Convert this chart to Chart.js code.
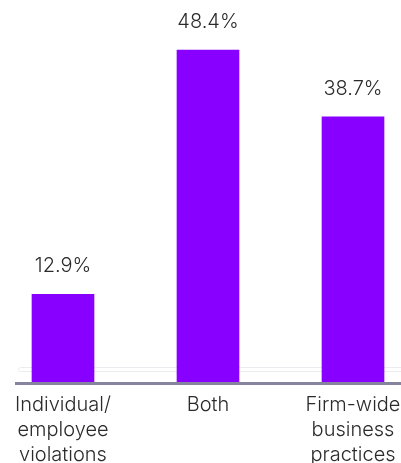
<!DOCTYPE html>
<html>
<head>
<meta charset="utf-8">
<script src="https://cdn.jsdelivr.net/npm/chart.js@4.4.1/dist/chart.umd.min.js"></script>
<style>
html,body{margin:0;padding:0;background:#fff;}
#wrap{width:401px;height:463px;position:relative;}
</style>
</head>
<body>
<div id="wrap"><canvas id="c" width="401" height="463"></canvas></div>
<script>
const categories = [["Individual/","employee","violations"], "Both", ["Firm-wide","business","practices"]];
const values = [12.9, 48.4, 38.7];
const valueLabels = ["12.9%", "48.4%", "38.7%"];

const FONT = "Inter, 'Liberation Sans', Arial, sans-serif";

const decor = {
  id: 'decor',
  beforeDatasetsDraw(chart) {
    const ctx = chart.ctx;
    const y0 = chart.scales.y.getPixelForValue(0);
    ctx.save();
    ctx.strokeStyle = '#ececf0';
    ctx.lineWidth = 1;
    ctx.beginPath();
    const bx = 18.5, by = y0 - 15.5, bw = 420, bh = 4, r = 2;
    ctx.moveTo(bx + r, by);
    ctx.lineTo(bx + bw, by);
    ctx.lineTo(bx + bw, by + bh);
    ctx.lineTo(bx + r, by + bh);
    ctx.arcTo(bx, by + bh, bx, by, r);
    ctx.arcTo(bx, by, bx + r, by, r);
    ctx.stroke();
    ctx.restore();
  },
  afterDatasetsDraw(chart) {
    const ctx = chart.ctx;
    const y0 = chart.scales.y.getPixelForValue(0);
    ctx.save();
    ctx.fillStyle = '#86839f';
    ctx.fillRect(15, y0 - 1, 401 - 15, 3);
    ctx.fillStyle = '#2b2b2b';
    ctx.font = '300 20px ' + FONT;
    ctx.textAlign = 'center';
    ctx.textBaseline = 'bottom';
    const meta = chart.getDatasetMeta(0);
    meta.data.forEach((bar, i) => {
      ctx.fillText(valueLabels[i], bar.x, bar.y - 18);
    });
    ctx.restore();
  }
};

new Chart(document.getElementById('c'), {
  type: 'bar',
  data: {
    labels: categories,
    datasets: [{
      data: values,
      backgroundColor: '#8800ff',
      borderWidth: 0,
      barThickness: 62,
      clip: false
    }]
  },
  options: {
    responsive: false,
    animation: false,
    devicePixelRatio: 1,
    layout: { padding: { top: 39, left: 63, right: 48, bottom: 0 } },
    plugins: { legend: { display: false }, tooltip: { enabled: false } },
    scales: {
      x: {
        offset: false,
        grid: { display: false, drawTicks: false },
        border: { display: false },
        ticks: {
          padding: 10,
          color: '#2b2b2b',
          font: { family: FONT, size: 20, weight: 300, lineHeight: 1.23 },
          maxRotation: 0,
          autoSkip: false
        },
        afterFit(s) { s.height = 80; s.paddingLeft = 0; s.paddingRight = 0; }
      },
      y: {
        display: false,
        min: 0,
        max: 50
      }
    }
  },
  plugins: [decor]
});
</script>
</body>
</html>
